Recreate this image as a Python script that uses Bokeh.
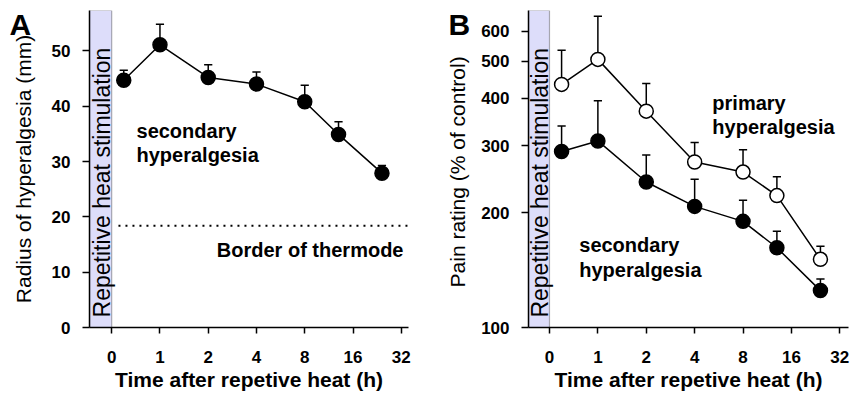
import math
from bokeh.plotting import figure
from bokeh.models import FixedTicker, BoxAnnotation, Label, PrintfTickFormatter
from bokeh.core.properties import value
from bokeh.layouts import row
from bokeh.embed import file_html
from bokeh.resources import INLINE

# ---------------- data ----------------
# positions on the (log2-like) time axis: tick index 0..6 -> 0,1,2,4,8,16,32 h
time_pos = [0.25, 1, 2, 3, 4, 4.7, 5.6]
x_tick_pos = [0, 1, 2, 3, 4, 5, 6]
x_tick_labels = ["0", "1", "2", "4", "8", "16", "32"]

# panel A: radius of secondary hyperalgesia (mm), mean and SEM
radius = [44.7, 51.1, 45.2, 44.0, 40.8, 34.9, 27.9]
radius_sem = [1.8, 3.7, 2.3, 2.2, 3.0, 2.3, 1.4]
border_of_thermode = 18.4
y_ticks_a = [0, 10, 20, 30, 40, 50]

# panel B: pain rating (% of control), mean and SEM
primary = [435, 506, 370, 272, 256, 222, 151]
primary_sem = [100, 151, 67, 34, 37, 27, 12.5]
secondary = [290, 309, 241, 208, 190, 162, 125]
secondary_sem = [48, 85, 43, 37, 26, 17, 9]
y_ticks_b = [100, 200, 300, 400, 500, 600]

FONT = "Liberation Sans"
BOX_FILL = "#DDDDFA"


def style_axes(p, y_ticks, ylabel, ylabel_standoff):
    p.xaxis.ticker = FixedTicker(ticks=x_tick_pos)
    p.xaxis.major_label_overrides = {t: l for t, l in zip(x_tick_pos, x_tick_labels)}
    p.yaxis.ticker = FixedTicker(ticks=y_ticks)
    for ax in (p.xaxis, p.yaxis):
        ax.axis_line_color = "black"
        ax.axis_line_width = 1.5
        ax.major_tick_line_color = "black"
        ax.major_tick_line_width = 1.5
        ax.major_tick_in = 0
        ax.minor_tick_line_color = None
        ax.minor_tick_out = 0
        ax.major_label_text_font = FONT
        ax.major_label_text_font_style = "bold"
        ax.major_label_text_font_size = "17px"
        ax.major_label_text_color = "black"
        ax.axis_label_text_font = FONT
        ax.axis_label_text_color = "black"
    p.xaxis.major_tick_out = 6
    p.yaxis.major_tick_out = 7
    p.xaxis.major_label_standoff = 17
    p.yaxis.major_label_standoff = 12
    p.xaxis.axis_label = "Time after repetive heat (h)"
    p.xaxis.axis_label_text_font_style = "bold"
    p.xaxis.axis_label_text_font_size = "21px"
    p.xaxis.axis_label_standoff = 2
    p.yaxis.axis_label = ylabel
    p.yaxis.axis_label_text_font_style = "normal"
    p.yaxis.axis_label_text_font_size = "21px"
    p.yaxis.axis_label_standoff = ylabel_standoff
    p.xgrid.grid_line_color = None
    p.ygrid.grid_line_color = None
    p.outline_line_color = None
    p.background_fill_color = "white"
    p.border_fill_color = "white"


def panel_letter(p, letter, offset):
    p.title.text = letter
    p.title.text_font = FONT
    p.title.text_font_size = "30px"
    p.title.text_font_style = "bold"
    p.title.text_color = "black"
    p.title.align = "left"
    p.title.vertical_align = "bottom"
    p.title.offset = offset
    p.title.standoff = -60


def stim_box(p, cx, cy):
    p.add_layout(BoxAnnotation(right=0, fill_color=BOX_FILL, fill_alpha=1.0,
                               line_color="black", line_width=1.2, level="underlay"))
    p.text(x=[cx], y=[cy], text=["Repetitive heat stimulation"], angle=math.pi / 2,
           text_align="center", text_baseline="middle", text_font=value(FONT),
           text_font_size="23px", text_color="black")


def series(p, ys, sems, filled):
    tops = [y + s for y, s in zip(ys, sems)]
    cap = 0.085
    p.segment(x0=time_pos, y0=ys, x1=time_pos, y1=tops, line_color="black", line_width=1.5)
    p.segment(x0=[x - cap for x in time_pos], y0=tops, x1=[x + cap for x in time_pos], y1=tops,
              line_color="black", line_width=1.5)
    p.line(time_pos, ys, line_color="black", line_width=1.5)
    p.scatter(time_pos, ys, marker="circle", size=14,
              fill_color="black" if filled else "white", line_color="black", line_width=1.5)


def text(p, x, y, s, size="20px", bold=True, align="left", baseline="alphabetic"):
    p.add_layout(Label(x=x, y=y, text=s, text_font=FONT, text_font_size=size,
                       text_font_style="bold" if bold else "normal", text_color="black",
                       text_align=align, text_baseline=baseline))


# ---------------- panel A ----------------
pa = figure(width=428, height=394, x_range=(-0.46, 6.15), y_range=(0, 57.3),
            output_backend="svg", toolbar_location=None,
            min_border_left=89, min_border_right=20, min_border_top=9, min_border_bottom=67)
style_axes(pa, y_ticks_a, "Radius of hyperalgesia (mm)", 14)
panel_letter(pa, "A", -80)
stim_box(pa, -0.21, 26.2)
pa.segment(x0=[0.14], y0=[border_of_thermode], x1=[6.15], y1=[border_of_thermode],
           line_color="black", line_width=2, line_dash="2 5")
series(pa, radius, radius_sem, True)
text(pa, 0.514, 35.5, "secondary")
text(pa, 0.514, 31.2, "hyperalgesia")
text(pa, 6.046, 14.05, "Border of thermode", align="right")

# ---------------- panel B ----------------
pb = figure(width=422, height=394, x_range=(-0.434, 6.18), y_range=(100, 680),
            y_axis_type="log", output_backend="svg", toolbar_location=None,
            min_border_left=100, min_border_right=2, min_border_top=10, min_border_bottom=67)
style_axes(pb, y_ticks_b, "Pain rating  (% of control)", 9)
pb.yaxis.formatter = PrintfTickFormatter(format="%d")
panel_letter(pb, "B", -80)
stim_box(pb, -0.195, 240)
series(pb, primary, primary_sem, False)
series(pb, secondary, secondary_sem, True)
text(pb, 3.366, 388, "primary")
text(pb, 3.366, 336, "hyperalgesia")
text(pb, 0.615, 164.4, "secondary")
text(pb, 0.615, 142, "hyperalgesia")

layout = row(pa, pb)
open("out.html", "w").write(file_html(layout, INLINE))
